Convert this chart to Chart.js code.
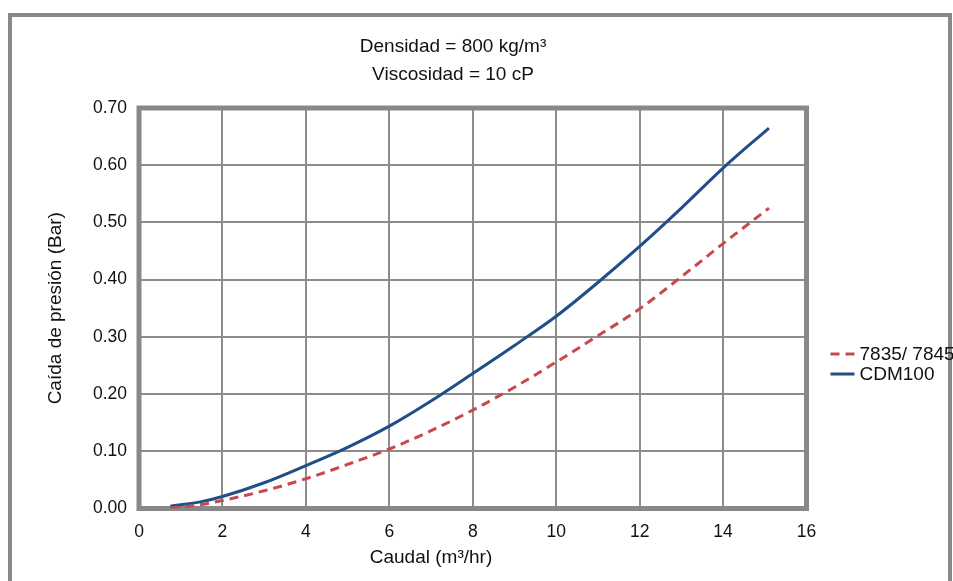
<!DOCTYPE html>
<html>
<head>
<meta charset="utf-8">
<script src="https://cdn.jsdelivr.net/npm/chart.js@4/dist/chart.umd.min.js"></script>
<style>
  html, body { margin: 0; padding: 0; background: #fff; overflow: hidden; }
  #frame {
    position: absolute; left: 8px; top: 13px;
    width: 936px; height: 600px;
    border: 4px solid #888; border-bottom: none;
  }
  #wrap { position: absolute; left: 0; top: 0; width: 953px; height: 581px; z-index: 2; }
</style>
</head>
<body>
<div id="frame"></div>
<div id="wrap"><canvas id="chart"></canvas></div>
<script>
// Caudal (m3/hr) sample points shared by both curves
const flow = [0.75, 1.5, 2, 3, 4, 5, 6, 7, 8, 9, 10, 11, 12, 13, 14, 15.1];

// Caida de presion (Bar)
const drop7835 = [0.001, 0.007, 0.014, 0.031, 0.052, 0.077, 0.104, 0.136, 0.172, 0.212, 0.256, 0.302, 0.349, 0.405, 0.463, 0.525];
const dropCDM100 = [0.004, 0.012, 0.021, 0.045, 0.075, 0.107, 0.144, 0.188, 0.236, 0.285, 0.336, 0.395, 0.458, 0.525, 0.595, 0.665];

const seriesLabels = ['7835/ 7845', 'CDM100'];
const titleLines = ['Densidad = 800 kg/m\u00b3', 'Viscosidad = 10 cP'];
const xAxisTitle = 'Caudal (m\u00b3/hr)';
const yAxisTitle = 'Caída de presión (Bar)';

const FONT = '"Liberation Sans", Arial, sans-serif';
const GRAY = '#888888';

const toPoints = ys => flow.map((x, i) => ({ x, y: ys[i] }));

// thick frame round the plot area, under the curves
const plotBorder = {
  id: 'plotBorder',
  beforeDatasetsDraw(chart) {
    const { ctx, chartArea: a } = chart;
    ctx.save();
    ctx.strokeStyle = GRAY;
    ctx.lineWidth = 5;
    ctx.strokeRect(a.left, a.top, a.right - a.left, a.bottom - a.top);
    ctx.restore();
  },
};

// heading lines and the x axis caption (both sit left of the plot centre)
const captions = {
  id: 'captions',
  afterDraw(chart) {
    const { ctx, chartArea: a } = chart;
    ctx.save();
    ctx.fillStyle = '#111';
    ctx.font = '19px ' + FONT;
    ctx.textAlign = 'center';
    ctx.textBaseline = 'middle';
    titleLines.forEach((t, i) => ctx.fillText(t, 453, 46.5 + i * 28));
    ctx.fillText(xAxisTitle, 431, a.bottom + 49);
    ctx.restore();
  },
};

// legend to the right of the plot
const sideLegend = {
  id: 'sideLegend',
  afterDraw(chart) {
    const { ctx, chartArea: a } = chart;
    ctx.save();
    ctx.font = '19px ' + FONT;
    ctx.textBaseline = 'middle';
    chart.data.datasets.forEach((ds, i) => {
      const y = a.top + 246 + i * 20;
      const x0 = a.right + 24;
      ctx.strokeStyle = ds.borderColor;
      ctx.lineWidth = ds.borderWidth;
      ctx.setLineDash(ds.borderDash || []);
      ctx.beginPath();
      ctx.moveTo(x0, y);
      ctx.lineTo(x0 + 24, y);
      ctx.stroke();
      ctx.setLineDash([]);
      ctx.fillStyle = '#111';
      ctx.fillText(ds.label, x0 + 29, y + 1);
    });
    ctx.restore();
  },
};

new Chart(document.getElementById('chart'), {
  type: 'line',
  data: {
    datasets: [
      {
        label: seriesLabels[0],
        data: toPoints(drop7835),
        borderColor: '#c9484b',
        borderWidth: 3,
        borderDash: [9, 6],
        pointRadius: 0,
        cubicInterpolationMode: 'monotone',
        fill: false,
      },
      {
        label: seriesLabels[1],
        data: toPoints(dropCDM100),
        borderColor: '#1f4e89',
        borderWidth: 3,
        pointRadius: 0,
        cubicInterpolationMode: 'monotone',
        fill: false,
      },
    ],
  },
  options: {
    responsive: true,
    maintainAspectRatio: false,
    animation: false,
    layout: { padding: { top: 108, right: 146.5, left: 0, bottom: 0 } },
    plugins: {
      legend: { display: false },
      title: { display: false },
      tooltip: { enabled: false },
    },
    scales: {
      x: {
        type: 'linear',
        min: 0,
        max: 16,
        afterFit: s => { s.height = 72.5; },
        border: { display: false },
        grid: { color: '#8c8c8c', lineWidth: 2, drawTicks: false },
        ticks: { stepSize: 2, padding: 13, color: '#111', font: { family: FONT, size: 17.5 } },
      },
      y: {
        min: 0,
        max: 0.7,
        afterFit: s => { s.width = 139; },
        border: { display: false },
        grid: { color: '#8c8c8c', lineWidth: 2, drawTicks: false },
        ticks: {
          stepSize: 0.1,
          padding: 12,
          color: '#111',
          font: { family: FONT, size: 17.5 },
          callback: v => v.toFixed(2),
        },
        title: {
          display: true,
          text: yAxisTitle,
          color: '#111',
          font: { family: FONT, size: 19 },
          padding: { top: 44, bottom: 0 },
        },
      },
    },
  },
  plugins: [plotBorder, captions, sideLegend],
});
</script>
</body>
</html>
